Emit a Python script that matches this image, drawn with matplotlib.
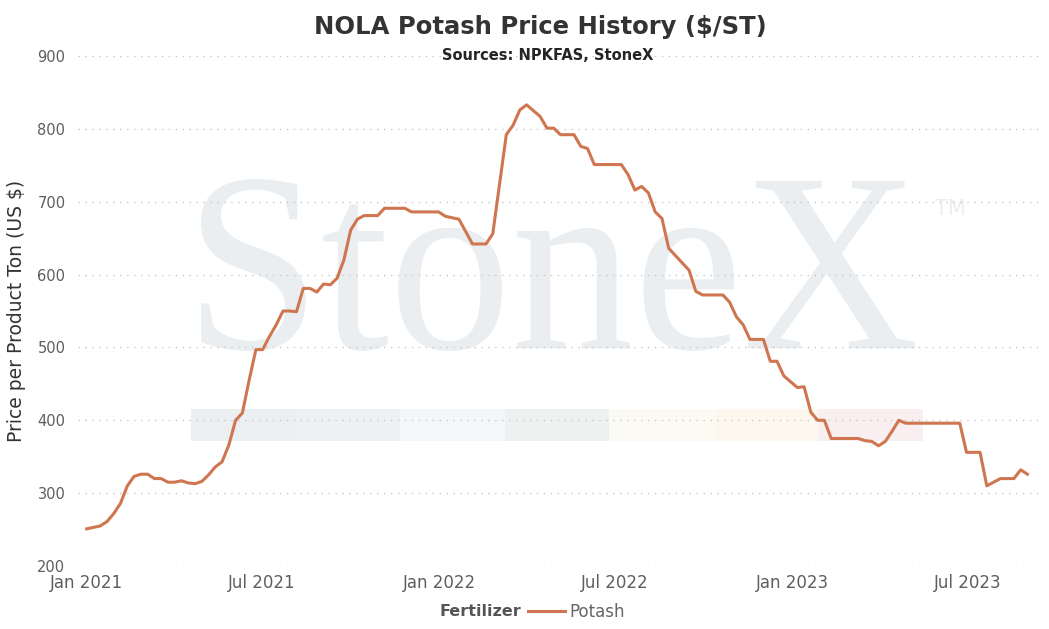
import matplotlib
matplotlib.use("Agg")
import matplotlib.pyplot as plt
import matplotlib.dates as mdates
from matplotlib.patches import Rectangle, PathPatch
from matplotlib.textpath import TextPath
from matplotlib.font_manager import FontProperties
from matplotlib.transforms import Affine2D
import pandas as pd

# weekly NOLA potash price ($/ST)
start_date = "2021-01-01"
potash = [
    251, 253, 255, 261, 272, 286, 310, 323, 326, 326,
    320, 320, 315, 315, 317, 314, 313, 316, 325, 336,
    343, 366, 400, 410, 455, 497, 497, 515, 531, 550,
    550, 549, 581, 581, 576, 587, 586, 595, 620, 661,
    676, 681, 681, 681, 691, 691, 691, 691, 686, 686,
    686, 686, 686, 680, 678, 676, 659, 642, 642, 642,
    656, 724, 792, 805, 826, 833, 825, 817, 801, 801,
    792, 792, 792, 776, 773, 751, 751, 751, 751, 751,
    737, 716, 721, 712, 686, 677, 636, 626, 616, 606,
    577, 572, 572, 572, 572, 562, 542, 531, 511, 511,
    511, 481, 481, 461, 453, 445, 446, 411, 400, 400,
    375, 375, 375, 375, 375, 372, 371, 365, 371, 385,
    400, 396, 396, 396, 396, 396, 396, 396, 396, 396,
    356, 356, 356, 310, 315, 320, 320, 320, 332, 326,
]
dates = pd.date_range(start_date, periods=len(potash), freq="7D")

y_ticks = [200, 300, 400, 500, 600, 700, 800, 900]
x_ticks = pd.to_datetime(["2021-01-01", "2021-07-01", "2022-01-01",
                          "2022-07-01", "2023-01-01", "2023-07-01"])

# pastel strip behind the watermark
band_colors = ["#eceff2", "#edf1f4", "#f3f7fa", "#edf2f0",
               "#fbfbf3", "#fcf8ee", "#f9eef0"]

LINE_COLOR = "#cf7650"
W, H = 1049, 629
plt.rcParams['font.family'] = ['DejaVu Sans']

fig = plt.figure(figsize=(W / 100, H / 100), dpi=100)
ax = fig.add_axes([78 / W, 1 - 566 / H, (1040 - 78) / W, (566 - 56) / H])
ax.set_facecolor("none")

#Watermark "StoneX" fitted to its box in pixels
tp = TextPath((0, 0), "StoneX", size=1, prop=FontProperties(family="Liberation Serif"))
ext = tp.get_extents()
x0, x1, ytop, ybot = 201, 915, 179, 351
sx = (x1 - x0) / ext.width
sy = (ybot - ytop) / ext.height
tr = (Affine2D().translate(-ext.x0, -ext.y0).scale(sx / W, sy / H)
      .translate(x0 / W, 1 - ybot / H) + fig.transFigure)
fig.add_artist(PathPatch(tp, transform=tr, facecolor="#eaeef1", edgecolor="none", zorder=-2))
fig.text(935 / W, 1 - 215 / H, "TM", fontsize=15, color="#eaeef1", zorder=-2)

#Faixa colorida
seg_w = (922.7 - 191) / len(band_colors)
for i, c in enumerate(band_colors):
    fig.add_artist(Rectangle(((191 + i * seg_w) / W, 1 - 441 / H), seg_w / W, 32 / H,
                             transform=fig.transFigure, facecolor=c, edgecolor="none", zorder=-1))

line, = ax.plot(dates, potash, color=LINE_COLOR, linewidth=2.2, label="Potash", zorder=3)

ax.set_ylim(200, 900)
ax.set_yticks(y_ticks)
ax.set_xlim(pd.Timestamp("2020-12-23"), pd.Timestamp("2023-09-14"))
ax.set_xticks(x_ticks)
ax.xaxis.set_major_formatter(mdates.DateFormatter("%b %Y"))
ax.grid(axis="y", color="#c8c8c8", linestyle=(0, (1, 4)), linewidth=1)
for s in ax.spines.values():
    s.set_visible(False)
ax.tick_params(axis="both", length=0, colors="#605e5c")
ax.tick_params(axis="y", labelsize=10.5, pad=9)
ax.tick_params(axis="x", labelsize=12, pad=6)
ax.set_ylabel("Price per Product Ton (US $)", fontsize=13.5, color="#333333")
ax.yaxis.set_label_coords((26 - 78) / (1040 - 78), 0.5)

fig.text(540 / W, 1 - 27 / H, "NOLA Potash Price History ($/ST)", ha="center", va="center",
         fontsize=17.5, fontweight="bold", color="#333333")
fig.text(548 / W, 1 - 56 / H, "Sources: NPKFAS, StoneX", ha="center", va="center",
         fontsize=10.5, fontweight="bold", color="#252423")

fig.text(521 / W, 1 - 612 / H, "Fertilizer", ha="right", va="center",
         fontsize=11.5, fontweight="bold", color="#555555")
fig.legend(handles=[line], loc="center left", bbox_to_anchor=(528 / W, 1 - 612 / H),
           frameon=False, fontsize=12, labelcolor="#666666", handlelength=2.2,
           handletextpad=0.3, borderaxespad=0, borderpad=0)

fig.savefig("out.png", dpi=100)
